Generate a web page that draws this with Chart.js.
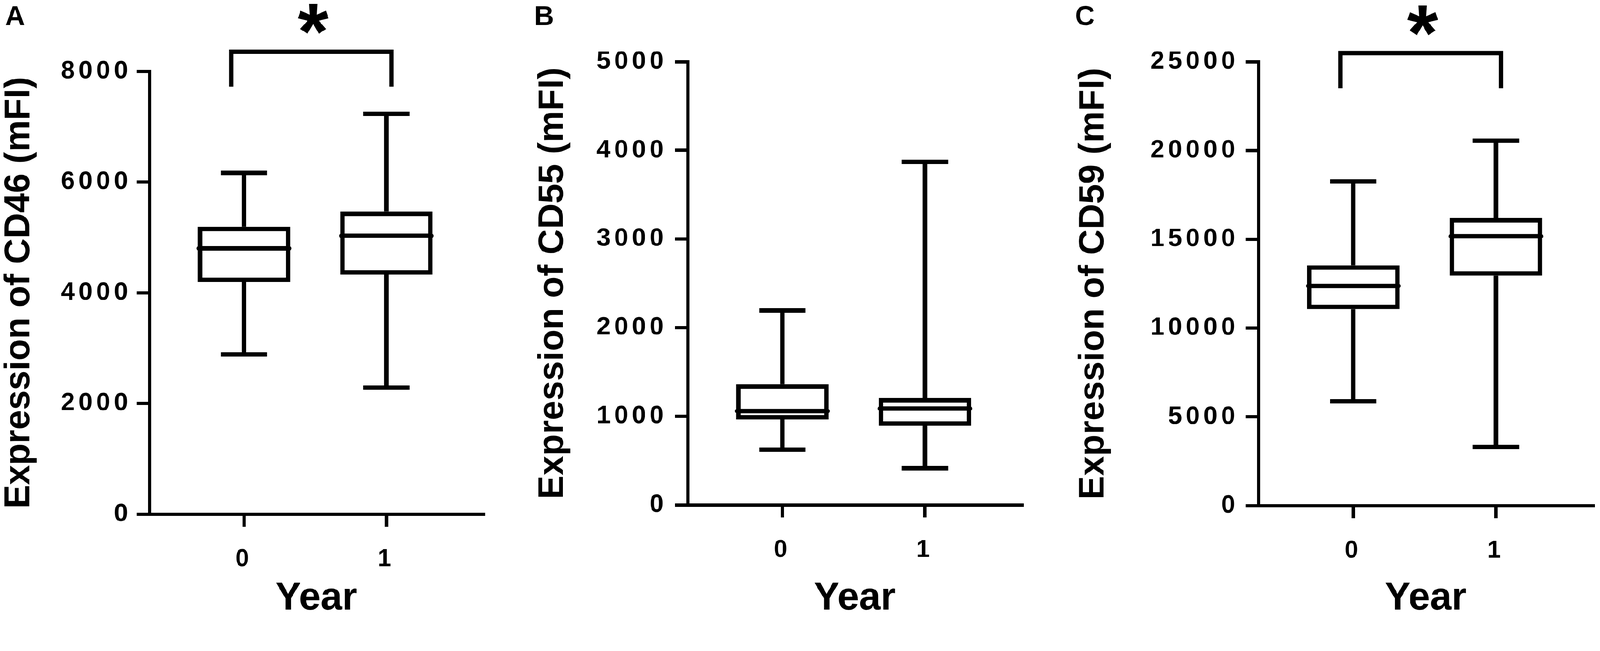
<!DOCTYPE html>
<html>
<head>
<meta charset="utf-8">
<script src="https://cdn.jsdelivr.net/npm/chart.js@4.4.1/dist/chart.umd.min.js"></script>
<style>
  html, body { margin: 0; background: #fff; overflow: hidden; }
  #wrap { position: relative; width: 4328px; height: 1667px; background: #fff; transform-origin: 0 0; }
  canvas { position: absolute; top: 0; }
</style>
</head>
<body>
<div id="wrap">
  <canvas id="chartA" width="1420" height="1667" style="left:0px"></canvas>
  <canvas id="chartB" width="1460" height="1667" style="left:1420px"></canvas>
  <canvas id="chartC" width="1448" height="1667" style="left:2880px"></canvas>
</div>
<script>
// Box plot data (mFI), one value per year
const years = ['0', '1'];

const cd46Min = [2885, 2283];
const cd46Q1 = [4234, 4367];
const cd46Median = [4801, 5028];
const cd46Q3 = [5150, 5425];
const cd46Max = [6165, 7232];
const cd46Ticks = [0, 2000, 4000, 6000, 8000];

const cd55Min = [621, 413];
const cd55Q1 = [988, 917];
const cd55Median = [1058, 1086];
const cd55Q3 = [1335, 1180];
const cd55Max = [2193, 3870];
const cd55Ticks = [0, 1000, 2000, 3000, 4000, 5000];

const cd59Min = [5870, 3310];
const cd59Q1 = [11190, 13080];
const cd59Median = [12370, 15170];
const cd59Q3 = [13415, 16070];
const cd59Max = [18255, 20550];
const cd59Ticks = [0, 5000, 10000, 15000, 20000, 25000];

const significance = ['*', '', '*'];

// the figure is laid out in 4328x1667 units; fit it to whatever the viewport really is
const W = 4328, H = 1667;
const fit = Math.min(window.innerWidth / W, window.innerHeight / H);
document.getElementById('wrap').style.transform = 'scale(' + fit + ')';

Chart.defaults.font.family = '"Liberation Sans", Arial, sans-serif';
Chart.defaults.color = '#000';

const LINE = 12;      // box / whisker stroke
const AXIS = 9;       // axis stroke

const panels = [
  {
    id: 'chartA', letter: 'A', title: 'Expression of CD46 (mFI)', star: significance[0],
    min: cd46Min, q1: cd46Q1, med: cd46Median, q3: cd46Q3, max: cd46Max, ticks: cd46Ticks,
    left: 0, width: 1420, padLeft: 14, axisX: 404, right: 1307, top: 193, bottom: 1391,
    yTitlePad: -9, letterPad: 108, tickPad: 14,
    bracket: { from: -0.09, to: 1.035, top: 8354, leg: 7720 }
  },
  {
    id: 'chartB', letter: 'B', title: 'Expression of CD55 (mFI)', star: significance[1],
    min: cd55Min, q1: cd55Q1, med: cd55Median, q3: cd55Q3, max: cd55Max, ticks: cd55Ticks,
    left: 1420, width: 1460, padLeft: 25, axisX: 1860, right: 2764, top: 167, bottom: 1366,
    yTitlePad: 4, letterPad: 82, tickPad: 21,
    bracket: null
  },
  {
    id: 'chartC', letter: 'C', title: 'Expression of CD59 (mFI)', star: significance[2],
    min: cd59Min, q1: cd59Q1, med: cd59Median, q3: cd59Q3, max: cd59Max, ticks: cd59Ticks,
    left: 2880, width: 1448, padLeft: 28, axisX: 3404, right: 4309, top: 167, bottom: 1368,
    yTitlePad: 3, letterPad: 82, tickPad: 19,
    bracket: { from: -0.09, to: 1.035, top: 25489, leg: 23500 }
  }
];

// whiskers, caps, medians and the significance bracket
function boxPlugin(p) {
  return {
    id: 'boxes',
    afterDatasetsDraw(chart) {
      const ctx = chart.ctx;
      const y = chart.scales.y;
      const meta = chart.getDatasetMeta(0);
      ctx.save();
      ctx.strokeStyle = '#000';
      ctx.lineWidth = LINE;
      const seg = (x1, y1, x2, y2) => {
        ctx.beginPath(); ctx.moveTo(x1, y1); ctx.lineTo(x2, y2); ctx.stroke();
      };
      meta.data.forEach((bar, i) => {
        const cx = bar.x;
        const half = bar.width / 2 + LINE / 2;
        const pMin = y.getPixelForValue(p.min[i]);
        const pQ1 = y.getPixelForValue(p.q1[i]);
        const pMed = y.getPixelForValue(p.med[i]);
        const pQ3 = y.getPixelForValue(p.q3[i]);
        const pMax = y.getPixelForValue(p.max[i]);
        ctx.lineCap = 'butt';
        seg(cx, pQ3 - LINE / 2, cx, pMax);
        seg(cx - half / 2, pMax, cx + half / 2, pMax);
        seg(cx, pQ1 + LINE / 2, cx, pMin);
        seg(cx - half / 2, pMin, cx + half / 2, pMin);
        ctx.lineCap = 'round';
        seg(cx - half + 3, pMed, cx + half - 3, pMed);
      });
      ctx.restore();
      // tick labels are drawn after this hook: spaced digits like the original
      ctx.letterSpacing = '10px';
    },
    afterDraw(chart) {
      const ctx = chart.ctx;
      ctx.letterSpacing = '0px';
      if (!p.bracket) return;
      const x = chart.scales.x, y = chart.scales.y;
      const b = p.bracket;
      const x1 = x.getPixelForValue(b.from), x2 = x.getPixelForValue(b.to);
      const yt = y.getPixelForValue(b.top), yl = y.getPixelForValue(b.leg);
      ctx.save();
      ctx.strokeStyle = '#000';
      ctx.lineWidth = LINE;
      ctx.lineCap = 'butt';
      ctx.lineJoin = 'miter';
      ctx.beginPath();
      ctx.moveTo(x1, yl); ctx.lineTo(x1, yt); ctx.lineTo(x2, yt); ctx.lineTo(x2, yl);
      ctx.stroke();
      // asterisk centred above the bracket
      ctx.fillStyle = '#000';
      ctx.textAlign = 'center';
      ctx.textBaseline = 'alphabetic';
      ctx.font = 'bold 100px "Liberation Sans", Arial, sans-serif';
      let m = ctx.measureText(p.star);
      const size = 100 * 82 / (m.actualBoundingBoxAscent + m.actualBoundingBoxDescent);
      ctx.font = 'bold ' + size + 'px "Liberation Sans", Arial, sans-serif';
      m = ctx.measureText(p.star);
      const cy = yt - 88;
      ctx.fillText(p.star, (x1 + x2) / 2 + 5, cy + (m.actualBoundingBoxAscent - m.actualBoundingBoxDescent) / 2);
      ctx.restore();
    }
  };
}

panels.forEach((p) => {
  const ctx = document.getElementById(p.id).getContext('2d');
  new Chart(ctx, {
    type: 'bar',
    data: {
      datasets: [{
        data: years.map((yr, i) => ({ x: i, y: [p.q1[i], p.q3[i]] })),
        backgroundColor: '#fff',
        borderColor: '#000',
        borderWidth: LINE,
        borderSkipped: false,
        inflateAmount: LINE / 2,
        barPercentage: 0.618,
        categoryPercentage: 1
      }]
    },
    options: {
      responsive: false,
      devicePixelRatio: 1,
      animation: false,
      events: [],
      layout: {
        padding: { left: p.padLeft, top: 0, right: p.width - (p.right - p.left), bottom: 0 }
      },
      plugins: {
        legend: { display: false },
        tooltip: { enabled: false },
        title: {
          display: true,
          text: p.letter,
          align: 'start',
          color: '#000',
          font: { size: 74, weight: 'bold', lineHeight: 1 },
          padding: { top: 11, bottom: p.letterPad }
        }
      },
      scales: {
        x: {
          type: 'linear',
          min: -0.665,
          max: 1.68,
          offset: false,
          afterBuildTicks: (axis) => { axis.ticks = years.map((yr, i) => ({ value: i })); },
          afterFit: (axis) => { axis.height = H - p.bottom; },
          ticks: {
            callback: (v) => years[v],
            font: { size: 66, weight: 'bold', lineHeight: 1 },
            color: '#000',
            padding: 56,
            maxRotation: 0,
            z: 1
          },
          grid: {
            offset: false,
            drawOnChartArea: false,
            drawTicks: true,
            tickLength: 34,
            lineWidth: AXIS,
            color: '#000'
          },
          border: { display: true, width: AXIS, color: '#000' },
          title: {
            display: true,
            text: 'Year',
            color: '#000',
            font: { size: 105, weight: 'bold', lineHeight: 1 },
            padding: { top: 0, bottom: -6 }
          }
        },
        y: {
          type: 'linear',
          min: p.ticks[0],
          max: p.ticks[p.ticks.length - 1],
          afterBuildTicks: (axis) => { axis.ticks = p.ticks.map((v) => ({ value: v })); },
          afterFit: (axis) => { axis.width = p.axisX - p.left - p.padLeft; },
          ticks: {
            callback: (v) => String(v),
            font: { size: 68, weight: 'bold', lineHeight: 1 },
            color: '#000',
            padding: p.tickPad,
            z: 1
          },
          grid: {
            drawOnChartArea: false,
            drawTicks: true,
            tickLength: 34,
            lineWidth: AXIS,
            color: '#000'
          },
          border: { display: true, width: AXIS, color: '#000' },
          title: {
            display: true,
            text: p.title,
            color: '#000',
            font: { size: 96, weight: 'bold', lineHeight: 1 },
            padding: { top: p.yTitlePad, bottom: 0 }
          }
        }
      }
    },
    plugins: [boxPlugin(p)]
  });
});
</script>
</body>
</html>
